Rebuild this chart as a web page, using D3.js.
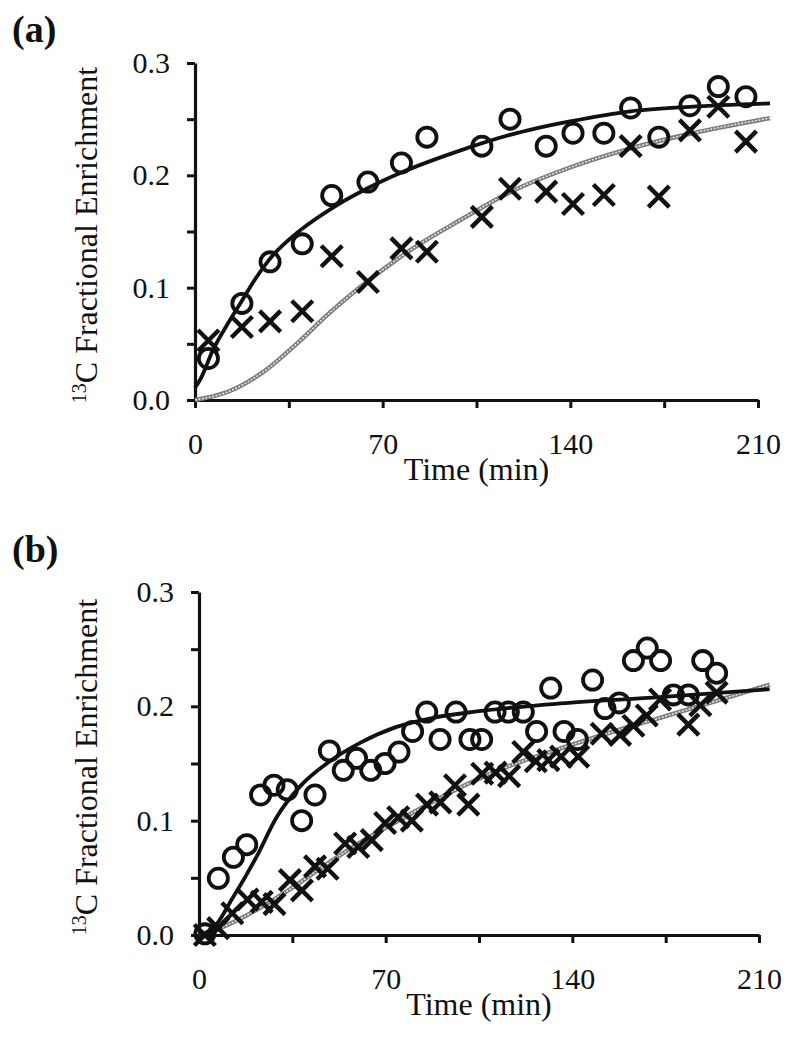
<!DOCTYPE html>
<html>
<head>
<meta charset="utf-8">
<script src="https://cdn.jsdelivr.net/npm/d3@7/dist/d3.min.js"></script>
<style>
  html, body { margin: 0; padding: 0; background: #fff; }
  svg { display: block; }
  text { font-family: "Liberation Serif", "Times New Roman", serif; fill: #111; }
</style>
</head>
<body>
<svg id="chart" width="796" height="1051"></svg>
<script>
// ---------- shared axis ticks ----------
const xTicks = [0, 35, 70, 105, 140, 175, 210];
const xTickLabels = { 0: "0", 70: "70", 140: "140", 210: "210" };
const yTicks = [0, 0.05, 0.1, 0.15, 0.2, 0.25, 0.3];
const yTickLabels = { 0: "0.0", 0.1: "0.1", 0.2: "0.2", 0.3: "0.3" };
const xTitle = "Time (min)";
const yTitleSup = "13";
const yTitleMain = "C Fractional Enrichment";

// ---------- panel (a) ----------
const timeA = [5, 17.5, 28, 40, 51, 64.5, 77, 86.5, 107, 117.5, 131, 141, 152.5, 162.5, 173, 184.6, 195.2, 205.5];
const circlesA = [0.037, 0.086, 0.123, 0.139, 0.182, 0.194, 0.211, 0.234, 0.226, 0.250, 0.226, 0.2375, 0.2375, 0.260, 0.234, 0.262, 0.279, 0.270];
const crossesA = [0.053, 0.065, 0.070, 0.079, 0.128, 0.105, 0.135, 0.132, 0.163, 0.188, 0.1855, 0.1745, 0.1825, 0.226, 0.181, 0.240, 0.261, 0.230];
const fitSolidTimeA = [0, 1.9, 6.8, 13, 17.4, 22, 27.7, 39.2, 50.6, 64, 76.5, 98.8, 117.5, 139.9, 162.5, 184.6, 214.5];
const fitSolidA = [0.011, 0.018, 0.045, 0.071, 0.088, 0.106, 0.125, 0.151, 0.170, 0.188, 0.202, 0.222, 0.236, 0.248, 0.257, 0.261, 0.264];
const fitGreyTimeA = [0, 13, 25.5, 37.9, 50.4, 64, 75.2, 83.9, 98.8, 117.5, 139.9, 162.5, 184.6, 214.5];
const fitGreyA = [0, 0.008, 0.025, 0.050, 0.078, 0.105, 0.125, 0.139, 0.160, 0.185, 0.207, 0.224, 0.237, 0.251];

// ---------- panel (b) ----------
const circleTimeB = [2.2, 7.25, 12.9, 17.9, 23.1, 28.1, 33.1, 38.5, 43.5, 48.9, 54.1, 59.1, 64.4, 69.75, 75, 80.1, 85.4, 90.4, 96.4, 101.6, 106, 111, 116, 121.6, 126.6, 131.9, 136.9, 141.9, 147.6, 152.25, 157.6, 162.9, 168.1, 173.1, 177.9, 183.5, 188.9, 194.1];
const circlesB = [0.001, 0.0496, 0.068, 0.079, 0.1225, 0.131, 0.127, 0.100, 0.1225, 0.161, 0.144, 0.1545, 0.144, 0.150, 0.160, 0.178, 0.195, 0.171, 0.195, 0.171, 0.171, 0.195, 0.195, 0.195, 0.178, 0.216, 0.178, 0.171, 0.223, 0.198, 0.203, 0.240, 0.251, 0.240, 0.210, 0.210, 0.240, 0.229];
const crossTimeB = [2.2, 7.2, 12.5, 18.2, 23.5, 28.3, 34.1, 38.6, 43.5, 48.2, 54.8, 59.7, 64.8, 69.8, 74.7, 79.8, 85.5, 90.5, 96, 101, 106.2, 111.2, 116.3, 121.6, 126.3, 131, 135.8, 142.2, 151, 157.9, 162.9, 167.9, 172.9, 183.5, 188, 194.1];
const crossesB = [0.000, 0.006, 0.019, 0.031, 0.029, 0.027, 0.048, 0.039, 0.060, 0.058, 0.080, 0.077, 0.083, 0.098, 0.103, 0.100, 0.114, 0.116, 0.131, 0.114, 0.141, 0.142, 0.139, 0.160, 0.152, 0.153, 0.156, 0.156, 0.176, 0.175, 0.183, 0.192, 0.206, 0.184, 0.201, 0.212];
const fitSolidTimeB = [0, 4.1, 12.9, 21.6, 29.1, 37.9, 49.1, 60.4, 74.1, 87.9, 104.1, 135.4, 172.9, 214];
const fitSolidB = [0, 0.003, 0.0335, 0.0685, 0.103, 0.130, 0.152, 0.168, 0.182, 0.190, 0.1955, 0.2025, 0.208, 0.215];
const fitGreyTimeB = [0, 9.1, 21.6, 34.1, 46.6, 59.1, 71.6, 84.1, 97.9, 116.6, 135.4, 154.1, 172.9, 191.6, 214.1];
const fitGreyB = [0, 0.0073, 0.022, 0.040, 0.060, 0.079, 0.096, 0.112, 0.129, 0.148, 0.163, 0.177, 0.190, 0.203, 0.219];

const svg = d3.select("#chart");
svg.append("rect").attr("width", 796).attr("height", 1051).attr("fill", "#fff");

function zip(t, v) { return t.map((d, i) => [d, v[i]]); }

function drawPanel(p) {
  const x = d3.scaleLinear().domain([0, 210]).range([p.x0, p.x1]);
  const y = d3.scaleLinear().domain([0, 0.3]).range([p.y0, p.y1]);
  const g = svg.append("g");

  // panel letter
  g.append("text").attr("x", 12).attr("y", p.labelY)
    .attr("font-size", 38).attr("font-weight", "bold").text(p.label);

  // y axis
  const ya = g.append("g").attr("transform", `translate(${p.x0},0)`)
    .call(d3.axisLeft(y).tickValues(yTicks).tickSize(8).tickSizeOuter(0).tickPadding(17)
      .tickFormat(d => yTickLabels[+d.toFixed(2)] || ""));
  // x axis
  const xa = g.append("g").attr("transform", `translate(0,${p.y0})`)
    .call(d3.axisBottom(x).tickValues(xTicks).tickSize(8).tickSizeOuter(0)
      .tickFormat(d => xTickLabels[d] || ""));
  [ya, xa].forEach(a => {
    a.select(".domain").attr("stroke", "#111").attr("stroke-width", 3.2);
    a.selectAll(".tick line").attr("stroke", "#111").attr("stroke-width", 3);
    a.selectAll("text").attr("font-size", 30).attr("fill", "#111")
      .attr("font-family", '"Liberation Serif", serif');
  });
  xa.selectAll("text").attr("y", 54).attr("dy", 0);

  // axis titles
  g.append("text").attr("x", (p.x0 + p.x1) / 2).attr("y", p.y0 + 80)
    .attr("text-anchor", "middle").attr("font-size", 32).text(xTitle);
  const yt = g.append("text")
    .attr("transform", `translate(97,${p.yTitleC}) rotate(-90)`)
    .attr("text-anchor", "middle").attr("font-size", 32);
  yt.append("tspan").attr("font-size", 20).attr("dy", -11).text(yTitleSup);
  yt.append("tspan").attr("dy", 11).text(yTitleMain);

  const line = d3.line().x(d => x(d[0])).y(d => y(d[1])).curve(d3.curveMonotoneX);

  // grey model curve (hatched look)
  const greyData = zip(p.greyT, p.greyV);
  g.append("path").datum(greyData).attr("d", line)
    .attr("fill", "none").attr("stroke", "#7a7a7a").attr("stroke-width", 4.4);
  g.append("path").datum(greyData).attr("d", line)
    .attr("fill", "none").attr("stroke", "#e6e6e6").attr("stroke-width", 1.6)
    .attr("stroke-dasharray", "2,1.5");

  // solid model curve
  g.append("path").datum(zip(p.solidT, p.solidV)).attr("d", line)
    .attr("fill", "none").attr("stroke", "#111").attr("stroke-width", 3.8);

  // circles
  g.append("g").selectAll("circle").data(zip(p.circT, p.circV)).join("circle")
    .attr("cx", d => x(d[0])).attr("cy", d => y(d[1])).attr("r", 9.6)
    .attr("fill", "none").attr("stroke", "#111").attr("stroke-width", 3.8);

  // crosses
  const s = 10.5;
  g.append("g").selectAll("path").data(zip(p.crossT, p.crossV)).join("path")
    .attr("transform", d => `translate(${x(d[0])},${y(d[1])})`)
    .attr("d", `M${-s},${-s}L${s},${s}M${-s},${s}L${s},${-s}`)
    .attr("fill", "none").attr("stroke", "#111").attr("stroke-width", 4.4);
}

drawPanel({
  label: "(a)", labelY: 42, x0: 195, x1: 758, y0: 400, y1: 63, yTitleC: 235,
  circT: timeA, circV: circlesA, crossT: timeA, crossV: crossesA,
  solidT: fitSolidTimeA, solidV: fitSolidA, greyT: fitGreyTimeA, greyV: fitGreyA
});
drawPanel({
  label: "(b)", labelY: 562, x0: 199, x1: 759, y0: 935, y1: 592, yTitleC: 767,
  circT: circleTimeB, circV: circlesB, crossT: crossTimeB, crossV: crossesB,
  solidT: fitSolidTimeB, solidV: fitSolidB, greyT: fitGreyTimeB, greyV: fitGreyB
});
</script>
</body>
</html>
